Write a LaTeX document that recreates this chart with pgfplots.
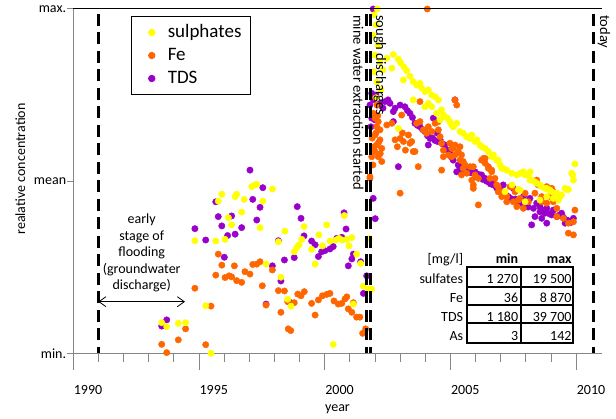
\documentclass[border=0pt]{standalone}
\usepackage{fontspec}
\setmainfont{Carlito}
\usepackage{pgfplots}
\pgfplotsset{compat=1.18}
\usetikzlibrary{arrows.meta}
\definecolor{sulf}{RGB}{255,255,0}
\definecolor{fe}{RGB}{255,102,0}
\definecolor{tds}{RGB}{153,0,204}
\definecolor{axgray}{RGB}{134,134,134}
\begin{document}
\begin{tikzpicture}[font=\fontsize{14}{16.8}\selectfont]
\useasboundingbox (0pt,0pt) rectangle (616pt,419pt);
\begin{axis}[
  at={(73.3pt,65.7pt)}, anchor=south west,
  scale only axis, width=528.4pt, height=344.3pt,
  xmin=1989.415, xmax=2010.425, ymin=0, ymax=1,
  clip=false,
  axis lines=left,
  axis line style={-, draw=axgray, line width=1pt},
  every outer x axis line/.append style={-},
  every outer y axis line/.append style={-},
  tick align=outside,
  major tick length=6pt,
  xtick={1990,1995,2000,2005,2010},
  xticklabels={1990,1995,2000,2005,2010},
  xtick style={draw=none},
  xticklabel style={yshift=-22.6pt},
  ytick={0,0.5,1},
  yticklabels={min.,mean,max.},
  ytick style={draw=axgray, line width=1pt},
  yticklabel style={inner xsep=1pt},
  xlabel={year},
  ylabel={realative concentration},
  every axis x label/.style={at={(axis description cs:0.5,-0.1618)}, anchor=center},
  every axis y label/.style={at={(axis description cs:-0.1001,0.5353)}, rotate=90, anchor=center},
  legend style={at={(axis description cs:0.0587,0.9805)}, anchor=north west, xshift=26.3pt, draw=black, line width=0.9pt, fill=white,
    font=\fontsize{19}{22}\selectfont, inner xsep=6.7pt, inner ysep=4.85pt, row sep=0pt,
    cells={anchor=west}, nodes={text height=13.5pt, text depth=4.5pt, inner ysep=2.5pt}},
  legend image code/.code={\path[draw=none,fill=none] (0pt,-3pt) rectangle (28pt,3pt);\draw[mark repeat=2,mark phase=2,#1] plot coordinates {(0pt,0pt) (14pt,0pt) (28pt,0pt)};},
  reverse legend,
]
% x axis ticks (major every 5 years, minor every year)
\pgfplotsinvokeforeach{0,...,20}{\draw[axgray, line width=1pt] (axis cs:{1989.415+#1},0) -- ++(0pt,-8.3pt);}
\pgfplotsinvokeforeach{0,5,10,15,20}{\draw[axgray, line width=1pt] (axis cs:{1989.415+#1},0) -- ++(0pt,-17pt);}

% TDS
\addplot[only marks, mark=*, mark size=3.2pt, color=tds] table {
x y
1992.93 0.079
1993.13 0.097
1994.25 0.362
1994.68 0.329
1995.08 0.440
1995.18 0.397
1995.32 0.370
1995.42 0.279
1995.55 0.342
1995.71 0.399
1995.85 0.346
1996.11 0.365
1996.44 0.532
1996.55 0.447
1996.71 0.387
1996.84 0.424
1996.95 0.481
1997.08 0.143
1997.33 0.254
1997.57 0.327
1997.67 0.210
1997.81 0.271
1997.99 0.150
1998.20 0.278
1998.32 0.426
1998.47 0.392
1998.59 0.341
1998.89 0.326
1999.03 0.315
1999.16 0.281
1999.29 0.295
1999.42 0.298
1999.62 0.303
1999.75 0.310
1999.89 0.334
2000.09 0.337
2000.18 0.408
2000.26 0.361
2000.35 0.254
2000.49 0.274
2000.55 0.288
2000.84 0.266
2000.95 0.174
2001.08 0.225
2001.34 0.450
2001.42 0.391
2001.34 1.000
2001.28 0.755
2001.34 0.736
2001.45 0.750
2001.21 0.721
2001.41 0.678
2001.28 0.683
2001.25 0.658
2001.61 0.726
2001.73 0.712
2001.81 0.731
2001.93 0.736
2002.01 0.726
2002.14 0.702
2002.14 0.673
2002.21 0.712
2002.34 0.542
2002.41 0.721
2002.60 0.716
2002.70 0.705
2002.80 0.697
2002.90 0.685
2003.00 0.668
2003.10 0.662
2003.20 0.658
2003.30 0.650
2003.40 0.644
2003.50 0.632
2003.53 0.605
2003.60 0.624
2003.70 0.625
2003.73 0.683
2003.80 0.618
2003.88 0.640
2003.90 0.615
2004.00 0.620
2004.10 0.608
2004.19 0.605
2004.30 0.590
2004.39 0.581
2004.45 0.570
2004.52 0.561
2004.59 0.736
2004.66 0.527
2004.72 0.547
2004.79 0.532
2004.85 0.540
2004.95 0.530
2005.06 0.527
2005.12 0.532
2005.20 0.525
2005.32 0.523
2005.39 0.527
2005.46 0.513
2005.50 0.520
2005.59 0.518
2005.65 0.518
2005.70 0.505
2005.79 0.508
2005.85 0.500
2005.92 0.498
2006.00 0.492
2006.12 0.489
2006.12 0.494
2006.25 0.480
2006.38 0.474
2006.51 0.465
2006.51 0.489
2006.60 0.462
2006.71 0.455
2006.80 0.450
2006.91 0.445
2006.91 0.479
2007.00 0.448
2007.10 0.440
2007.18 0.445
2007.30 0.432
2007.31 0.455
2007.44 0.426
2007.50 0.425
2007.57 0.450
2007.64 0.373
2007.71 0.421
2007.77 0.397
2007.84 0.436
2007.97 0.411
2007.97 0.426
2008.04 0.392
2008.10 0.415
2008.17 0.407
2008.24 0.421
2008.24 0.378
2008.35 0.405
2008.44 0.402
2008.50 0.416
2008.64 0.397
2008.70 0.400
2008.83 0.407
2008.90 0.395
2008.97 0.378
2009.03 0.387
2009.10 0.385
2009.20 0.380
2009.30 0.392
};
\addlegendentry{TDS}

% Fe
\addplot[only marks, mark=*, mark size=3.2pt, color=fe] table {
x y
1992.93 0.026
1993.13 0.002
1993.59 0.039
1993.88 0.071
1994.25 0.189
1994.68 0.025
1994.89 0.137
1995.08 0.227
1995.18 0.288
1995.32 0.256
1995.45 0.220
1995.61 0.225
1995.71 0.222
1995.82 0.254
1995.91 0.211
1996.11 0.206
1996.24 0.237
1996.44 0.230
1996.55 0.258
1996.71 0.259
1996.84 0.266
1996.93 0.196
1997.08 0.140
1997.33 0.242
1997.57 0.182
1997.67 0.119
1997.81 0.181
1997.94 0.150
1997.96 0.071
1998.06 0.066
1998.20 0.147
1998.34 0.172
1998.47 0.167
1998.60 0.179
1998.89 0.145
1999.03 0.111
1999.16 0.155
1999.32 0.167
1999.49 0.171
1999.62 0.174
1999.78 0.152
1999.95 0.143
2000.09 0.145
2000.22 0.158
2000.29 0.164
2000.35 0.129
2000.49 0.119
2000.55 0.147
2000.68 0.105
2000.81 0.105
2000.92 0.058
2001.04 0.071
2001.21 0.508
2003.49 1.000
2001.34 0.697
2001.41 0.683
2001.54 0.673
2001.48 0.658
2001.61 0.649
2001.41 0.634
2001.61 0.620
2001.48 0.605
2001.68 0.595
2001.41 0.586
2001.54 0.571
2001.28 0.571
2001.68 0.557
2001.21 0.513
2001.33 0.547
2001.49 0.721
2001.45 0.640
2001.55 0.612
2001.38 0.600
2001.62 0.580
2001.30 0.625
2001.52 0.690
2001.88 0.663
2002.08 0.668
2002.47 0.692
2002.21 0.620
2002.30 0.600
2002.41 0.624
2002.50 0.640
2002.54 0.615
2002.62 0.590
2002.74 0.634
2002.80 0.610
2002.87 0.615
2002.93 0.586
2003.00 0.586
2003.07 0.668
2003.20 0.673
2003.13 0.542
2002.41 0.465
2003.20 0.731
2003.33 0.649
2003.46 0.639
2003.53 0.658
2003.67 0.644
2003.80 0.668
2003.93 0.649
2003.93 0.673
2004.00 0.629
2004.06 0.610
2004.06 0.532
2004.13 0.590
2004.13 0.571
2004.33 0.576
2004.39 0.610
2004.46 0.595
2004.46 0.571
2004.52 0.595
2004.59 0.605
2004.59 0.576
2004.59 0.736
2004.66 0.721
2004.72 0.586
2004.79 0.561
2004.79 0.600
2004.85 0.576
2004.85 0.518
2004.92 0.537
2004.92 0.557
2004.99 0.547
2005.06 0.523
2005.19 0.542
2005.26 0.503
2005.32 0.542
2005.32 0.489
2005.32 0.479
2005.39 0.518
2005.52 0.508
2005.52 0.431
2005.65 0.561
2005.72 0.566
2005.79 0.566
2005.79 0.552
2005.92 0.542
2005.92 0.537
2005.98 0.508
2006.05 0.532
2006.05 0.527
2006.18 0.508
2006.25 0.489
2006.31 0.484
2006.31 0.469
2006.45 0.469
2006.45 0.455
2006.65 0.455
2006.65 0.440
2006.78 0.484
2006.85 0.484
2006.91 0.440
2006.98 0.469
2007.05 0.426
2007.11 0.445
2007.18 0.450
2007.31 0.421
2007.38 0.465
2007.51 0.440
2007.77 0.465
2007.84 0.494
2007.84 0.503
2007.90 0.489
2008.04 0.455
2008.04 0.440
2008.24 0.436
2008.24 0.484
2008.30 0.479
2008.37 0.455
2008.44 0.479
2008.50 0.469
2008.50 0.440
2008.64 0.397
2008.64 0.421
2008.90 0.392
2009.10 0.378
2009.30 0.382
2009.36 0.416
2009.10 0.349
2009.30 0.344
};
\addlegendentry{Fe}

% sulphates
\addplot[only marks, mark=*, mark size=3.2pt, color=sulf] table {
x y
1992.93 0.089
1993.13 0.077
1993.59 0.087
1993.88 0.089
1994.25 0.327
1994.89 0.000
1994.68 0.138
1996.51 0.484
1996.64 0.489
1996.71 0.491
1997.33 0.477
1995.32 0.462
1995.18 0.442
1995.85 0.455
1995.91 0.462
1996.21 0.447
1996.95 0.442
1996.11 0.410
1995.58 0.394
1995.71 0.373
1996.84 0.365
1995.08 0.326
1995.45 0.331
1997.08 0.259
1997.67 0.221
1997.57 0.324
1997.83 0.355
1998.20 0.295
1998.30 0.307
1998.39 0.315
1998.50 0.331
1998.59 0.368
1997.94 0.157
1998.07 0.137
1998.89 0.302
1999.18 0.344
1999.32 0.312
1999.49 0.373
1999.03 0.259
1999.62 0.326
1999.85 0.329
1999.98 0.334
2000.11 0.329
2000.29 0.331
2000.49 0.336
2000.19 0.400
2000.38 0.312
2000.68 0.288
2000.84 0.261
2000.55 0.143
2000.95 0.195
2001.15 0.187
2001.28 0.186
2001.18 0.333
1999.75 0.026
2001.50 1.000
2001.37 0.983
2001.45 0.954
2001.33 0.924
2001.53 0.895
2001.41 0.866
2001.61 0.846
2001.37 0.817
2001.49 0.788
2001.65 0.765
2001.45 0.742
2001.73 0.823
2001.88 0.857
2002.14 0.868
2002.34 0.854
2002.43 0.844
2002.56 0.832
2002.67 0.821
2002.80 0.805
2002.93 0.789
2003.07 0.779
2003.20 0.784
2003.27 0.770
2003.40 0.760
2003.53 0.765
2003.67 0.750
2003.80 0.745
2003.93 0.736
2004.06 0.707
2004.13 0.692
2004.29 0.683
2004.39 0.673
2004.52 0.658
2004.66 0.668
2004.79 0.644
2004.92 0.639
2005.06 0.629
2005.19 0.624
2005.39 0.615
2005.59 0.605
2005.79 0.595
2005.92 0.586
2006.05 0.571
2006.25 0.561
2006.38 0.547
2006.51 0.537
2006.65 0.532
2006.85 0.523
2007.05 0.518
2007.18 0.523
2007.31 0.527
2007.51 0.518
2007.64 0.503
2007.84 0.494
2008.04 0.484
2008.24 0.479
2008.44 0.469
2008.64 0.465
2008.83 0.460
2009.03 0.476
2009.23 0.523
2009.36 0.550
2002.08 0.828
2002.54 0.794
2002.93 0.736
2003.40 0.716
2003.53 0.726
2002.34 0.653
2003.67 0.716
2003.86 0.697
2004.00 0.678
2004.46 0.663
2004.19 0.687
2005.26 0.634
2005.46 0.620
2005.65 0.600
2006.12 0.576
2006.31 0.561
2006.45 0.537
2006.58 0.469
2006.86 0.489
2007.11 0.476
2007.18 0.474
2007.38 0.518
2007.38 0.440
2007.58 0.527
2007.57 0.503
2007.77 0.498
2007.97 0.489
2007.97 0.445
2008.17 0.479
2008.24 0.455
2008.37 0.474
2008.50 0.450
2008.57 0.465
2008.70 0.445
2008.77 0.455
2008.97 0.479
2009.10 0.476
2009.27 0.518
2009.30 0.503
};
\addlegendentry{sulphates}
\end{axis}

\begin{scope}[x=1pt,y=1pt]
% top border line
\draw[black, line width=1pt] (73.3,410) -- (601.7,410);

% event lines
\begin{scope}[line width=2.6pt, dash pattern=on 12pt off 6.5pt, black]
\draw (98.3,405) -- (98.3,65.7);
\draw (366.5,405) -- (366.5,65.7);
\draw (370.5,405) -- (370.5,65.7);
\draw (593.3,405) -- (593.3,65.7);
\end{scope}

% annotations
\node[rotate=-90, anchor=west, inner sep=0pt, font=\fontsize{14.5}{17}\selectfont] at (358.3,404) {mine water extraction started};
\node[rotate=-90, anchor=west, inner sep=0pt, font=\fontsize{14.5}{17}\selectfont] at (380,404) {sough discharges};
\node[rotate=-90, anchor=west, inner sep=0pt, font=\fontsize{14.5}{17}\selectfont] at (604,404) {today};

\draw[{Straight Barb[length=7pt,width=10pt]}-{Straight Barb[length=7pt,width=10pt]}, line width=0.8pt] (98.3,117.3) -- (185,117.3);
\node[align=center, font=\fontsize{14}{16.5}\selectfont, inner sep=0pt] at (141.7,166) {early\\stage of\\flooding\\(groundwater\\discharge)};

% table of ranges
\begin{scope}[line width=1.8pt]
\draw (466.7,152.3) rectangle (573.3,76.3);
\draw (466.7,132.3) -- (573.3,132.3);
\draw (466.7,114) -- (573.3,114);
\draw (466.7,95.7) -- (573.3,95.7);
\draw (520.7,152.3) -- (520.7,76.3);
\end{scope}
\begin{scope}[every node/.style={anchor=base east, inner sep=0pt}]
\node at (463.3,155) {[mg/l]};
\node at (518.3,155) {\bfseries min};
\node at (571.7,155) {\bfseries max};
\node at (463.3,135.7) {sulfates};
\node at (518.3,135.7) {1 270};
\node at (571.7,135.7) {19 500};
\node at (463.3,116.7) {Fe};
\node at (518.3,116.7) {36};
\node at (571.7,116.7) {8 870};
\node at (463.3,97.3) {TDS};
\node at (518.3,97.3) {1 180};
\node at (571.7,97.3) {39 700};
\node at (463.3,78) {As};
\node at (518.3,78) {3};
\node at (571.7,78) {142};
\end{scope}
\end{scope}
\end{tikzpicture}
\end{document}
